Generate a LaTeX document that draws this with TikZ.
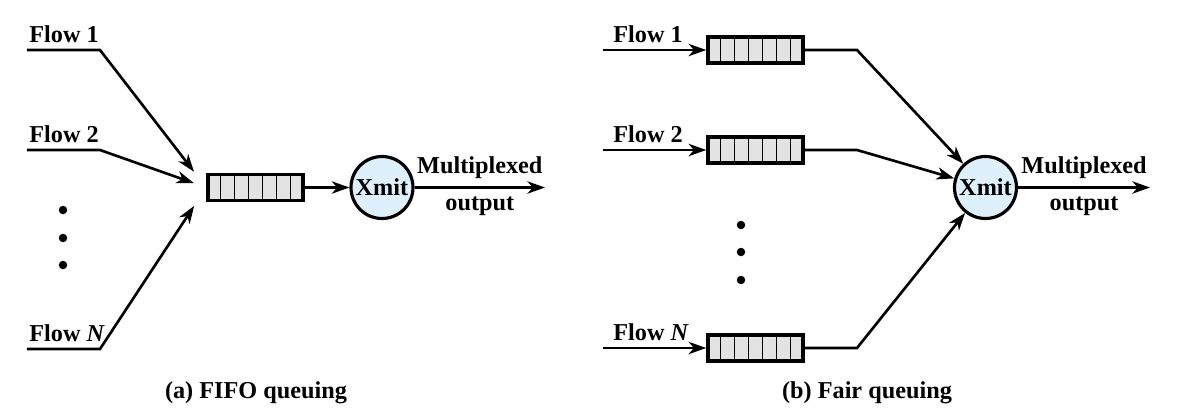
\documentclass[tikz,border=0pt]{standalone}
\usepackage{fontspec}
\setmainfont{Liberation Serif}
\usetikzlibrary{arrows.meta,calc}

\definecolor{queuegray}{RGB}{227,227,227}
\definecolor{xmitblue}{RGB}{221,240,251}

\begin{document}
\begin{tikzpicture}[>={Stealth[length=10pt,width=7pt,inset=3pt]}, line width=1.5pt,
        every node/.style={font=\fontsize{13.8}{16}\selectfont\bfseries},
        queue/.style={draw, fill=queuegray, line width=2pt, minimum width=1.90cm,
            minimum height=0.52cm, inner sep=0pt},
        cell/.style={line width=0.9pt},
        xmit/.style={draw, circle, fill=xmitblue, line width=1.8pt, minimum size=1.24cm, inner sep=0pt},
        lbl/.style={anchor=base west, inner sep=0pt}]

    \useasboundingbox (0,0) rectangle (23.54,8.30);

    % --- (a) FIFO: one queue for all flows ---
    \node[queue] (qa) at (5.11,4.55) {};
    \node[xmit] (xa) at (7.64,4.55) {Xmit};
    \coordinate (oa) at (10.90,4.55);

    \foreach \f/\y/\s/\t in {1/7.30/0.40/1, 2/5.30/0.26/2, N/1.32/0.44/\textit{N}} {
        \coordinate (sa\f) at (0.54,\y);
        \coordinate (ba\f) at (2.00,\y);
        \draw[->, shorten >=\s cm] (sa\f) -- (ba\f) -- (qa.west);
        \node[lbl] (la\f) at ($(sa\f)+(0.02,0.15)$) {Flow \t};
    }

    \draw[->] (qa) -- (xa);
    \draw[->] (xa) -- (oa) node[midway, above=1pt] (ma) {Multiplexed}
                           node[midway, below=1pt] (pa) {output};

    \foreach \y in {4.10,3.54,3.00} {
        \fill (1.26,\y) circle (0.085);
    }

    \node[anchor=base] (capa) at (5.12,0.34) {(a) FIFO queuing};

    % --- (b) fair queuing: one queue per flow ---
    \node[xmit] (xb) at (19.71,4.55) {Xmit};
    \coordinate (ob) at (23.00,4.55);

    \foreach \f/\y/\t in {1/7.30/1, 2/5.30/2, N/1.34/\textit{N}} {
        \node[queue] (qb\f) at (15.11,\y) {};
        \coordinate (sb\f) at (12.06,\y);
        \coordinate (bb\f) at (17.14,\y);
        \draw[->] (sb\f) -- (qb\f);
        \draw[->] (qb\f) -- (bb\f) -- (xb);
        \node[lbl] (lb\f) at ($(sb\f)+(0.18,0.15)$) {Flow \t};
    }

    \draw[->] (xb) -- (ob) node[midway, above=1pt] (mb) {Multiplexed}
                           node[midway, below=1pt] (pb) {output};

    \foreach \y in {3.80,3.26,2.70} {
        \fill (14.82,\y) circle (0.085);
    }

    \node[anchor=base] (capb) at (17.34,0.34) {(b) Fair queuing};

    % --- queue cells ---
    \foreach \q in {qa,qb1,qb2,qbN} {
        \foreach \i in {1,...,6} {
            \draw[cell] ($(\q.north west)!\i/7!(\q.north east)$) -- ($(\q.south west)!\i/7!(\q.south east)$);
        }
    }

\end{tikzpicture}
\end{document}
